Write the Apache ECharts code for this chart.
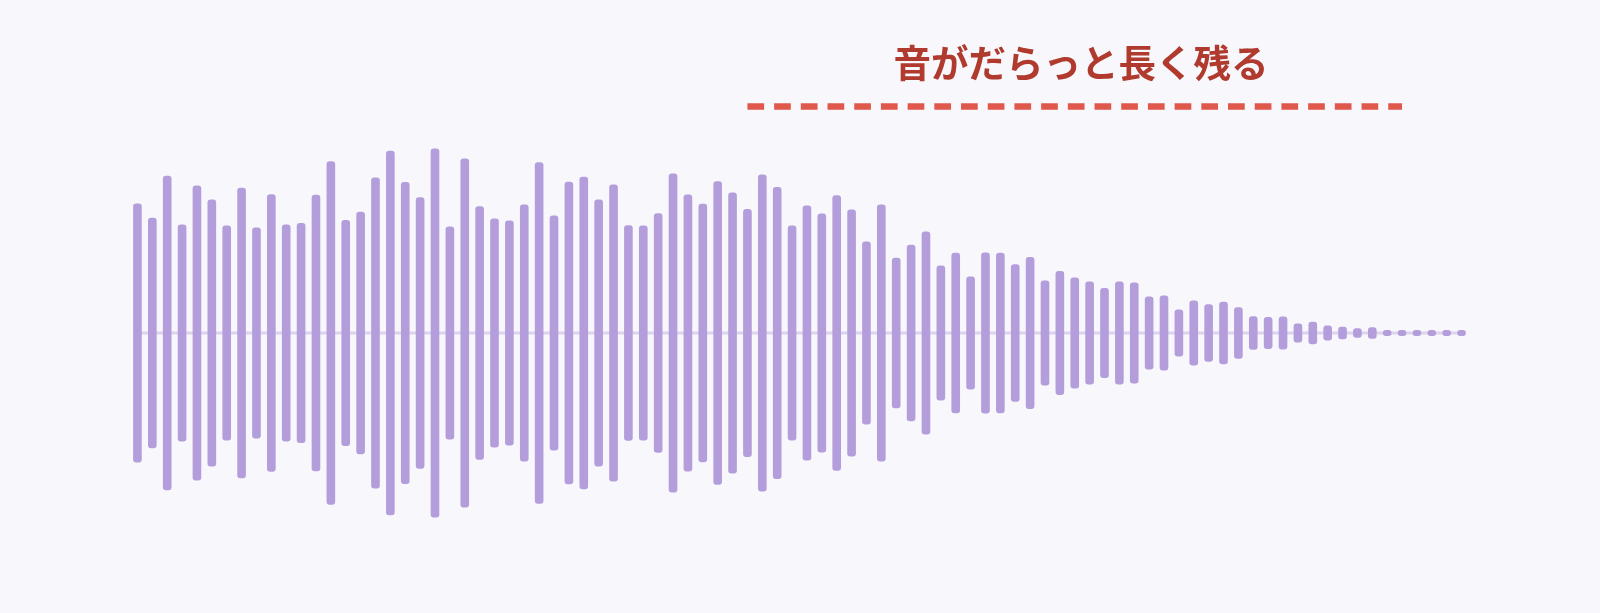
<!doctype html>
<html>
<head>
	<meta charset="utf-8">
	<title>音がだらっと長く残る</title>
	<style>
		html, body { margin: 0; padding: 0; background: #f8f7fc; }
		#main { width: 1600px; height: 613px; }
	</style>
</head>
<body>
<div id="main"></div>
<script src="https://cdn.jsdelivr.net/npm/echarts@6/dist/echarts.min.js"></script>
<script>
	// waveform amplitude per bar (symmetric around 0)
	var amps = [
		64.8, 57.6, 78.6, 54.3, 73.8, 66.7, 53.7, 72.6, 52.8, 69.4,
		54.2, 55.0, 69.1, 85.9, 56.5, 60.6, 77.7, 91.1, 75.5, 67.9,
		92.3, 53.2, 87.3, 63.4, 57.3, 56.2, 64.2, 85.4, 58.8, 75.6,
		78.1, 66.8, 74.3, 53.9, 53.8, 59.9, 79.8, 69.2, 64.6, 75.9,
		70.3, 62.0, 79.3, 73.0, 53.8, 63.7, 59.7, 68.9, 61.7, 45.8,
		64.3, 37.6, 44.1, 50.8, 33.7, 40.1, 28.3, 40.2, 40.1, 34.4,
		38.0, 26.3, 31.0, 27.7, 25.7, 22.5, 25.8, 25.3, 18.3, 18.8,
		11.8, 16.2, 14.4, 15.6, 12.9, 8.4, 8.0, 8.3, 4.7, 5.6,
		3.8, 3.1, 2.4, 2.9, 1.5, 1.5, 1.5, 1.5, 1.5, 1.5
	]
	var categories = amps.map(function (v, i) { return String(i + 1) })
	var baseline = amps.map(function () { return 0 })

	// annotation: label and the span it marks
	var labelText = '音がだらっと長く残る'
	var spanStart = 41
	var spanEnd = 85
	var spanLevel = 113.2

	var myChart = echarts.init(document.getElementById('main'))

	var option = {
		backgroundColor: '#f8f7fc',
		animation: false,
		grid: { left: 130, right: 131, top: 93, bottom: 80 },
		xAxis: {
			type: 'category',
			data: categories,
			boundaryGap: true,
			show: false
		},
		yAxis: {
			type: 'value',
			min: -100,
			max: 120,
			show: false
		},
		graphic: [{
			type: 'text',
			x: 1081,
			y: 63,
			style: {
				text: labelText,
				fill: '#b03a2e',
				font: 'bold 37.5px "Noto Sans CJK JP"',
				textAlign: 'center',
				textVerticalAlign: 'middle'
			}
		}],
		series: [{
			// centre line + dashed span marker
			type: 'line',
			data: baseline,
			symbol: 'none',
			z: 1,
			lineStyle: { color: '#dcd4ec', width: 3 },
			markLine: {
				symbol: 'none',
				silent: true,
				label: { show: false },
				lineStyle: { color: '#e0584c', width: 6.5, type: [16.7, 10], opacity: 1 },
				data: [[{ coord: [spanStart, spanLevel] }, { coord: [spanEnd, spanLevel] }]]
			}
		}, {
			type: 'custom',
			z: 2,
			data: amps.map(function (v, i) { return [i, v] }),
			renderItem: function (params, api) {
				var a = api.value(1)
				var top = api.coord([api.value(0), a])
				var bot = api.coord([api.value(0), -a])
				var w = api.size([1, 0])[0] * 0.58
				return {
					type: 'rect',
					shape: { x: top[0] - w / 2, y: top[1], width: w, height: bot[1] - top[1], r: 3 },
					style: { fill: '#b39ddb' }
				}
			}
		}]
	}
	myChart.setOption(option)
</script>
</body>
</html>
